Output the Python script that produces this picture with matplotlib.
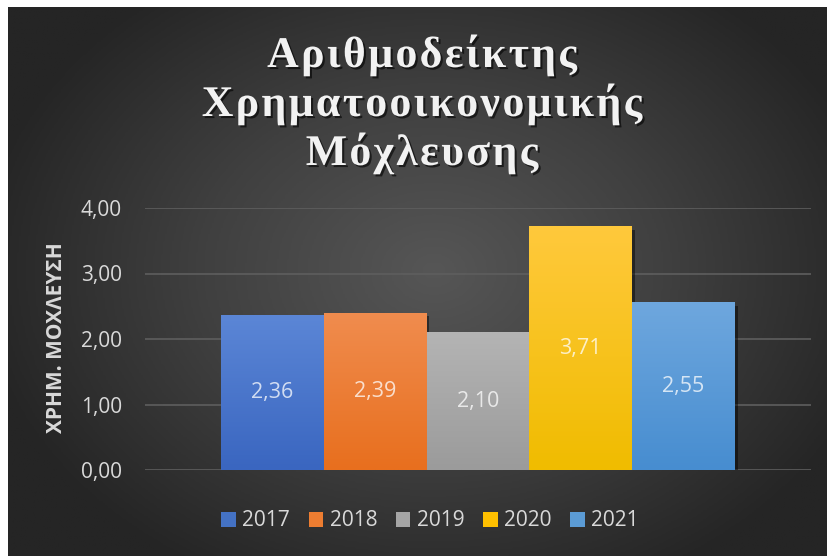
import matplotlib
matplotlib.use("Agg")
import matplotlib.pyplot as plt
import matplotlib.patheffects as pe
from matplotlib.colors import LinearSegmentedColormap
from matplotlib.ticker import FuncFormatter
import numpy as np

years = ["2017", "2018", "2019", "2020", "2021"]
leverage = [2.36, 2.39, 2.10, 3.71, 2.55]
base_colors = ["#4472C4", "#ED7D31", "#A5A5A5", "#FFC000", "#5B9BD5"]
top_colors = ["#5b86d6", "#f08c4e", "#b4b4b4", "#ffc93c", "#6ea7de"]
bottom_colors = ["#3a66c0", "#e86f1e", "#9b9b9b", "#f0bc00", "#478dd0"]

title_lines = ["Αριθμοδείκτης", "Χρηματοοικονομικής", "Μόχλευσης"]
ylabel = "ΧΡΗΜ. ΜΟΧΛΕΥΣΗ"
text_col = "#d9d9d9"
sans = ["Open Sans", "DejaVu Sans"]

W, H = 829, 556
fig = plt.figure(figsize=(W / 100, H / 100), dpi=100, facecolor="white")

# radial grey background of the chart area
bg = fig.add_axes([8 / W, 0, (W - 10) / W, (H - 7) / H])
yy, xx = np.mgrid[0:1:300j, 0:1:450j]
r = np.sqrt(((xx - 0.52) / 0.75) ** 2 + ((yy - 0.52) / 0.85) ** 2)
r = np.clip(r / 0.75, 0, 1)
bg_cmap = LinearSegmentedColormap.from_list("bg", ["#565656", "#404040", "#252525"])
bg.imshow(r, cmap=bg_cmap, extent=(0, 1, 0, 1), aspect="auto", origin="lower", vmin=0, vmax=1)
bg.set_axis_off()

ax = fig.add_axes([145 / W, (H - 470) / H, (811 - 145) / W, (470 - 208) / H])
ax.set_facecolor("none")

x = np.arange(len(years))
bars = ax.bar(x, leverage, width=1.0, color=base_colors, label=years, zorder=2,
              path_effects=[pe.SimplePatchShadow(offset=(2, -2), shadow_rgbFace="black", alpha=0.45)])
for rect, c0, c1 in zip(bars, bottom_colors, top_colors):
    x0, w, h = rect.get_x(), rect.get_width(), rect.get_height()
    cm = LinearSegmentedColormap.from_list("g", [c0, c1])
    ax.imshow(np.linspace(0, 1, 100).reshape(-1, 1), cmap=cm, extent=(x0, x0 + w, 0, h),
              aspect="auto", origin="lower", zorder=3)

for xi, v in zip(x, leverage):
    ax.text(xi, v / 2, f"{v:.2f}".replace(".", ","), ha="center", va="center",
            fontsize=15.5, color="white", alpha=0.75, family=sans, zorder=4)

ax.set_xlim(-1.239, 5.239)
ax.set_ylim(0, 4)
ax.set_yticks([0, 1, 2, 3, 4])
ax.yaxis.set_major_formatter(FuncFormatter(lambda v, p: f"{v:.2f}".replace(".", ",")))
ax.set_xticks([])
ax.grid(axis="y", color="#5e5e5e", linewidth=1.2, zorder=0)
ax.set_axisbelow(True)
for s in ax.spines.values():
    s.set_visible(False)
ax.tick_params(axis="y", length=0, pad=16.5, labelsize=15, labelcolor=text_col)
for lab in ax.get_yticklabels():
    lab.set_family(sans)

fig.text(57 / W, 1 - 338 / H, ylabel, rotation=90, ha="center", va="center",
         fontsize=15, fontweight="bold", color=text_col, family=sans)

# title drawn letter by letter to get the wide character spacing
renderer = fig.canvas.get_renderer()
title_kw = dict(fontsize=31.5, fontweight="bold", family="Liberation Serif", color="#f2f2f2",
                va="baseline", ha="left",
                path_effects=[pe.withSimplePatchShadow(offset=(1.5, -1.5),
                                                       shadow_rgbFace="black", alpha=0.6)])
spacing = 2.4
baselines = [67, 116, 165]
for line, base in zip(title_lines, baselines):
    chars = [fig.text(0, 0, ch, **title_kw) for ch in line]
    widths = [c.get_window_extent(renderer).width for c in chars]
    total = sum(widths) + spacing * (len(chars) - 1)
    xpos = 422 - total / 2
    for c, w in zip(chars, widths):
        c.set_position((xpos / W, 1 - base / H))
        xpos += w + spacing

leg = fig.legend(handles=list(bars), labels=years, loc="center", ncol=5,
                 bbox_to_anchor=(430 / W, 1 - 521 / H), frameon=False,
                 handlelength=0.7, handleheight=0.7, handletextpad=0.3,
                 columnspacing=0.9, prop={"family": sans, "size": 15})
for t in leg.get_texts():
    t.set_color(text_col)
for hnd in leg.legend_handles:
    hnd.set_path_effects([])

fig.savefig("out.png", dpi=100, facecolor="white")
